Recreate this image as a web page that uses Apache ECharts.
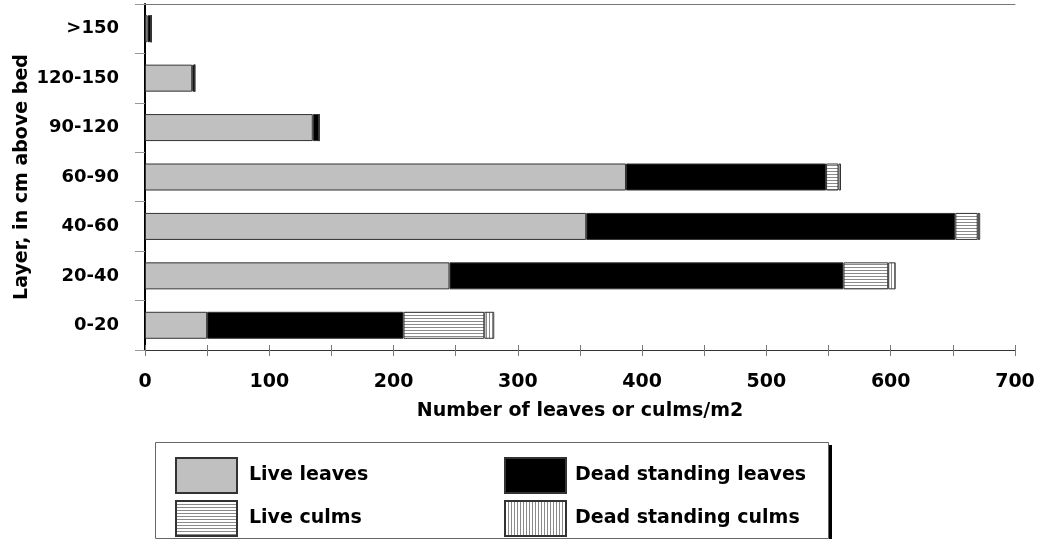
<!DOCTYPE html>
<html>
<head>
<meta charset="utf-8">
<script src="https://cdn.jsdelivr.net/npm/echarts@6/dist/echarts.min.js"></script>
<style>
  html, body { margin: 0; padding: 0; background: #fff; }
  #chart { width: 1037px; height: 539px; }
</style>
</head>
<body>
<div id="chart"></div>
<script>
// layers, bottom to top
const layers = ['0-20', '20-40', '40-60', '60-90', '90-120', '120-150', '>150']
const liveLeaves = [50, 245, 355, 387, 135, 38, 2]
const deadLeaves = [158, 317, 297, 161, 5, 2, 3]
const liveCulms = [65, 36, 18, 10, 0, 0, 0]
const deadCulms = [8, 6, 2, 2, 0, 0, 0]

// striped fills
function stripes(horizontal) {
  const c = document.createElement('canvas')
  c.width = 3
  c.height = 3
  const ctx = c.getContext('2d')
  ctx.fillStyle = '#fff'
  ctx.fillRect(0, 0, 3, 3)
  ctx.fillStyle = '#8a8a8a'
  if (horizontal) ctx.fillRect(0, 0, 3, 1)
  else ctx.fillRect(0, 0, 1, 3)
  return { image: c, repeat: 'repeat' }
}

const font = 'DejaVu Sans, Arial, sans-serif'
const txt = { fontWeight: 'bold', fontSize: 19, color: '#000', fontFamily: font }
const border = { borderColor: '#333', borderWidth: 1 }

function bar(name, data, color) {
  return {
    name: name,
    type: 'bar',
    stack: 'all',
    barWidth: 27,
    data: data,
    itemStyle: Object.assign({ color: color }, border)
  }
}

// one legend entry per box slot
function legendItem(name, left, top, pad) {
  return {
    left: left,
    top: top,
    icon: 'rect',
    itemWidth: 61,
    itemHeight: 35,
    selectedMode: false,
    data: [name],
    textStyle: Object.assign({ padding: [0, 0, 0, pad] }, txt)
  }
}

const chart = echarts.init(document.getElementById('chart'))
chart.setOption({
  animation: false,
  textStyle: { fontFamily: font },
  grid: { left: 145, right: 22, top: 4, bottom: 189, containLabel: false, outerBoundsMode: 'none' },
  xAxis: [
    {
      type: 'value',
      min: 0,
      max: 700,
      interval: 100,
      name: 'Number of leaves or culms/m2',
      nameLocation: 'middle',
      nameGap: 52,
      nameMoveOverlap: false,
      nameTextStyle: txt,
      axisLine: { show: true, lineStyle: { color: '#333', width: 1 } },
      axisTick: { show: true, length: 6, lineStyle: { color: '#777' } },
      minorTick: { show: true, splitNumber: 2, length: 6, lineStyle: { color: '#777' } },
      axisLabel: Object.assign({ margin: 23 }, txt),
      splitLine: { show: false }
    },
    {
      type: 'value',
      position: 'top',
      min: 0,
      max: 700,
      axisLine: { show: true, lineStyle: { color: '#777', width: 1 } },
      axisTick: { show: false },
      axisLabel: { show: false },
      splitLine: { show: false }
    },
    {
      type: 'value',
      position: 'bottom',
      min: 0,
      max: 700,
      interval: 100,
      axisLine: { show: false },
      axisTick: { show: true, inside: true, length: 5, lineStyle: { color: '#777' } },
      minorTick: { show: true, splitNumber: 2, length: 5, lineStyle: { color: '#777' } },
      axisLabel: { show: false },
      splitLine: { show: false }
    }
  ],
  yAxis: {
    type: 'category',
    data: layers,
    name: 'Layer, in cm above bed',
    nameLocation: 'middle',
    nameGap: 113,
    nameMoveOverlap: false,
    nameTextStyle: txt,
    axisLine: { show: true, lineStyle: { color: '#000', width: 2 } },
    axisTick: { show: true, length: 10, lineStyle: { color: '#999' } },
    axisLabel: Object.assign({}, txt, { margin: 26, fontSize: 18 })
  },
  legend: [
    legendItem('Live leaves', 170, 452, 7),
    legendItem('Live culms', 170, 495, 7),
    legendItem('Dead standing leaves', 499, 452, 4),
    legendItem('Dead standing culms', 499, 495, 4)
  ],
  graphic: [
    {
      type: 'rect',
      shape: { x: 155.5, y: 442.5, width: 673, height: 96 },
      style: { fill: 'none', stroke: '#666', lineWidth: 1 },
      z: -1
    },
    {
      type: 'rect',
      shape: { x: 829, y: 445, width: 3, height: 94 },
      style: { fill: '#000' }
    }
  ],
  series: [
    bar('Live leaves', liveLeaves, '#c0c0c0'),
    bar('Dead standing leaves', deadLeaves, '#000'),
    bar('Live culms', liveCulms, stripes(true)),
    bar('Dead standing culms', deadCulms, stripes(false))
  ]
})
</script>
</body>
</html>
